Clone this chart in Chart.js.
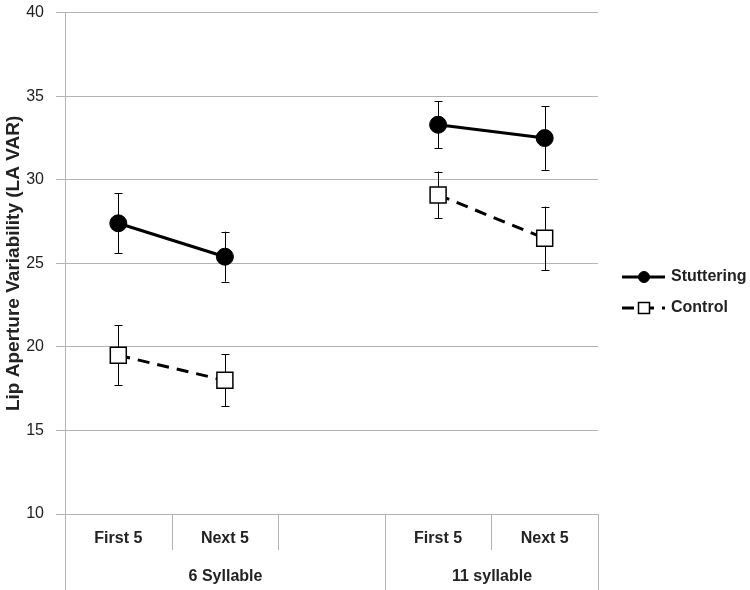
<!DOCTYPE html>
<html>
<head>
<meta charset="utf-8">
<script src="https://cdn.jsdelivr.net/npm/chart.js@4/dist/chart.umd.min.js"></script>
<style>
  body { margin: 0; background: #fff; }
  canvas { display: block; }
</style>
</head>
<body>
<canvas id="lip-chart" width="750" height="590"></canvas>
<script>
const categories = ['First 5', 'Next 5', '', 'First 5', 'Next 5']
const groupLabels = ['6 Syllable', '11 syllable']
const groupSizes = [3, 2]

const stuttering = [27.4, 25.4, null, 33.3, 32.5]
const stutteringErr = [1.8, 1.5, null, 1.4, 1.9]
const control = [19.5, 18.0, null, 29.1, 26.5]
const controlErr = [1.8, 1.55, null, 1.4, 1.9]

const yTicks = [10, 15, 20, 25, 30, 35, 40]

const gridColor = '#b3b3b3'
const textColor = '#222'
const fontFamily = '"Liberation Sans", Arial, sans-serif'

// error bars, drawn under the markers
const errorBars = {
  id: 'errorBars',
  beforeDatasetsDraw(chart) {
    const ctx = chart.ctx
    const x = chart.scales.x
    const y = chart.scales.y
    ctx.save()
    ctx.strokeStyle = '#000'
    ctx.lineWidth = 1
    chart.data.datasets.forEach(ds => {
      ds.data.forEach((v, i) => {
        const e = ds.errors[i]
        if (v === null || e === null) return
        const px = Math.round(x.getPixelForValue(i)) + 0.5
        const top = y.getPixelForValue(v + e)
        const bot = y.getPixelForValue(v - e)
        ctx.beginPath()
        ctx.moveTo(px, top)
        ctx.lineTo(px, bot)
        ctx.moveTo(px - 4, Math.round(top) + 0.5)
        ctx.lineTo(px + 4, Math.round(top) + 0.5)
        ctx.moveTo(px - 4, Math.round(bot) + 0.5)
        ctx.lineTo(px + 4, Math.round(bot) + 0.5)
        ctx.stroke()
      })
    })
    ctx.restore()
  }
}

// two-tier category axis: separators and group labels
const groupAxis = {
  id: 'groupAxis',
  afterDraw(chart) {
    const ctx = chart.ctx
    const x = chart.scales.x
    const w = x.getPixelForValue(1) - x.getPixelForValue(0)
    const edge = i => Math.round(x.getPixelForValue(0) - w / 2 + i * w) + 0.5
    const base = chart.chartArea.bottom
    ctx.save()
    ctx.strokeStyle = gridColor
    ctx.lineWidth = 1
    const groupEdges = [0]
    groupSizes.forEach(s => groupEdges.push(groupEdges[groupEdges.length - 1] + s))
    for (let i = 0; i <= categories.length; i++) {
      const full = groupEdges.includes(i)
      ctx.beginPath()
      ctx.moveTo(edge(i), base)
      ctx.lineTo(edge(i), full ? 590 : 550)
      ctx.stroke()
    }
    ctx.fillStyle = textColor
    ctx.font = 'bold 16px ' + fontFamily
    ctx.textAlign = 'center'
    ctx.textBaseline = 'middle'
    groupLabels.forEach((label, g) => {
      const cx = (edge(groupEdges[g]) + edge(groupEdges[g + 1])) / 2
      ctx.fillText(label, cx, 577)
    })
    ctx.restore()
  }
}

// legend with line + marker samples
const lineLegend = {
  id: 'lineLegend',
  afterDraw(chart) {
    const ctx = chart.ctx
    const rows = [277, 308]
    ctx.save()
    chart.data.datasets.forEach((ds, i) => {
      const yy = rows[i]
      ctx.strokeStyle = '#000'
      ctx.lineWidth = 3
      ctx.setLineDash(ds.borderDash || [])
      ctx.beginPath()
      ctx.moveTo(622, yy)
      ctx.lineTo(665, yy)
      ctx.stroke()
      ctx.setLineDash([])
      ctx.lineWidth = ds.pointBorderWidth
      ctx.fillStyle = ds.pointBackgroundColor
      ctx.beginPath()
      if (ds.pointStyle === 'rect') {
        ctx.rect(638.5, yy - 5.5, 11, 11)
      } else {
        ctx.arc(644, yy, 5.5, 0, Math.PI * 2)
      }
      ctx.fill()
      ctx.stroke()
      ctx.fillStyle = textColor
      ctx.font = 'bold 16px ' + fontFamily
      ctx.textAlign = 'left'
      ctx.textBaseline = 'middle'
      ctx.fillText(ds.label, 671, yy)
    })
    ctx.restore()
  }
}

const ctx = document.getElementById('lip-chart')

const lipChart = new Chart(ctx, {
  type: 'line',
  data: {
    labels: categories,
    datasets: [
      {
        label: 'Stuttering',
        data: stuttering,
        errors: stutteringErr,
        borderColor: '#000',
        borderWidth: 3,
        pointStyle: 'circle',
        pointRadius: 8.5,
        pointBackgroundColor: '#000',
        pointBorderColor: '#000',
        pointBorderWidth: 1,
        spanGaps: false
      },
      {
        label: 'Control',
        data: control,
        errors: controlErr,
        borderColor: '#000',
        borderWidth: 3,
        borderDash: [12, 8],
        pointStyle: 'rect',
        pointRadius: 11.3,
        pointBackgroundColor: '#fff',
        pointBorderColor: '#000',
        pointBorderWidth: 1.5,
        spanGaps: false
      }
    ]
  },
  options: {
    responsive: false,
    animation: false,
    events: [],
    devicePixelRatio: 1,
    layout: {
      padding: { left: 0, top: 0, right: 152, bottom: 0 }
    },
    plugins: {
      legend: { display: false },
      title: { display: false },
      tooltip: { enabled: false }
    },
    scales: {
      x: {
        type: 'category',
        offset: true,
        grid: { display: false },
        border: { display: true, color: gridColor },
        ticks: {
          color: textColor,
          padding: 7,
          maxRotation: 0,
          autoSkip: false,
          font: { family: fontFamily, size: 16, weight: 'bold' }
        },
        afterFit(scale) { scale.height = 76 }
      },
      y: {
        min: 10,
        max: 40,
        afterBuildTicks(scale) { scale.ticks = yTicks.map(v => ({ value: v })) },
        grid: { color: gridColor, tickLength: 9 },
        border: { color: gridColor },
        ticks: {
          color: textColor,
          padding: 12,
          font: { family: fontFamily, size: 16 }
        },
        title: {
          display: true,
          text: 'Lip Aperture Variability (LA VAR)',
          color: textColor,
          padding: { top: 2, bottom: 0 },
          font: { family: fontFamily, size: 19, weight: 'bold' }
        },
        afterFit(scale) {
          scale.width = 65
          scale.paddingTop = 8
          scale.paddingBottom = 0
        }
      }
    }
  },
  plugins: [errorBars, groupAxis, lineLegend]
})
</script>
</body>
</html>
